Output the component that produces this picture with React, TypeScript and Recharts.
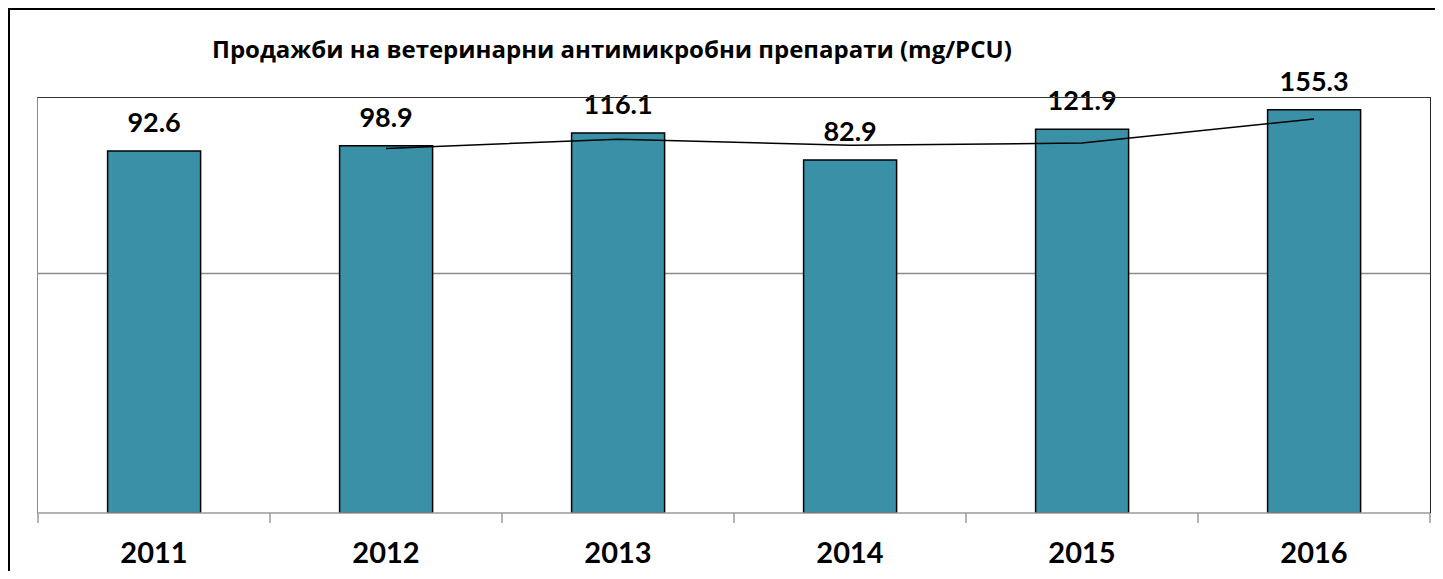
import {
  ComposedChart,
  Bar,
  Line,
  XAxis,
  YAxis,
  CartesianGrid,
  LabelList,
} from 'recharts';

const years = ['2011', '2012', '2013', '2014', '2015', '2016'];
const sales = [92.6, 98.9, 116.1, 82.9, 121.9, 155.3];
// 2-period moving average trendline
const trend = [null, 95.8, 107.5, 99.5, 102.4, 138.6];
const gridValues = [20];
const yDomain = [1, 180];

const title = 'Продажби на ветеринарни антимикробни препарати (mg/PCU)';

const data = years.map((year, i) => ({
  year,
  sales: sales[i],
  trend: trend[i],
}));

const W = 1435;
const H = 571;
const margin = { top: 90, right: 13, bottom: 16, left: 30 };

const YearTick = (props: any) => {
  const { x, y, payload } = props;
  const half = payload.offset ?? 0;
  const last = payload.value === years[years.length - 1];
  return (
    <g>
      <line x1={x - half} x2={x - half} y1={y} y2={y + 10} stroke="#9a9a9a" strokeWidth={1.5} />
      {last && (
        <line x1={x + half} x2={x + half} y1={y} y2={y + 10} stroke="#9a9a9a" strokeWidth={1.5} />
      )}
      <text
        x={x}
        y={y + 50}
        textAnchor="middle"
        fontFamily="Lato, 'Open Sans', sans-serif"
        fontWeight={700}
        fontSize={29}
        fill="#000"
      >
        {payload.value}
      </text>
    </g>
  );
};

const App = () => {
  const plotW = W - margin.left - margin.right;
  const plotH = H - margin.top - margin.bottom - 50;
  return (
    <div style={{ position: 'relative', width: W, height: H - 8 }}>
      <style>{'html,body{overflow:hidden}'}</style>
      <ComposedChart
        width={W}
        height={H}
        data={data}
        margin={margin}
        barCategoryGap="30%"
      >
        <CartesianGrid
          vertical={false}
          horizontalValues={gridValues}
          stroke="#8c8c8c"
          strokeWidth={1.5}
        />
        <XAxis
          dataKey="year"
          height={50}
          axisLine={{ stroke: '#9a9a9a', strokeWidth: 1.5 }}
          tickLine={false}
          tickSize={0}
          tickMargin={0}
          tick={<YearTick />}
          interval={0}
        />
        <YAxis hide type="number" scale="log" domain={yDomain} allowDataOverflow />
        <Bar
          dataKey="sales"
          fill="#3A91A7"
          stroke="#000"
          strokeWidth={1.5}
          isAnimationActive={false}
        >
          <LabelList
            dataKey="sales"
            position="top"
            offset={19}
            fill="#000"
            fontFamily="Lato, 'Open Sans', sans-serif"
            fontWeight={700}
            fontSize={27}
          />
        </Bar>
        <Line
          dataKey="trend"
          type="linear"
          stroke="#000"
          strokeWidth={1.5}
          dot={false}
          activeDot={false}
          isAnimationActive={false}
        />
      </ComposedChart>
      {/* plot area frame */}
      <div
        style={{
          position: 'absolute',
          boxSizing: 'border-box',
          left: margin.left - 0.75,
          top: margin.top - 0.75,
          width: plotW + 1.5,
          height: plotH + 1,
          borderTop: '1.5px solid #333',
          borderRight: '1.5px solid #222',
          borderLeft: '1.5px solid #8c8c8c',
          pointerEvents: 'none',
        }}
      />
      {/* outer chart frame */}
      <div
        style={{
          position: 'absolute',
          left: 0,
          top: 0,
          width: W,
          height: H,
          borderTop: '2px solid #000',
          borderLeft: '2px solid #000',
          pointerEvents: 'none',
        }}
      />
      <div
        style={{
          position: 'absolute',
          left: 204,
          top: 29,
          fontFamily: "'Open Sans', 'Noto Sans', sans-serif",
          fontWeight: 700,
          fontSize: 24,
          lineHeight: 1,
          whiteSpace: 'nowrap',
          color: '#000',
        }}
      >
        {title}
      </div>
    </div>
  );
};

export default App;
